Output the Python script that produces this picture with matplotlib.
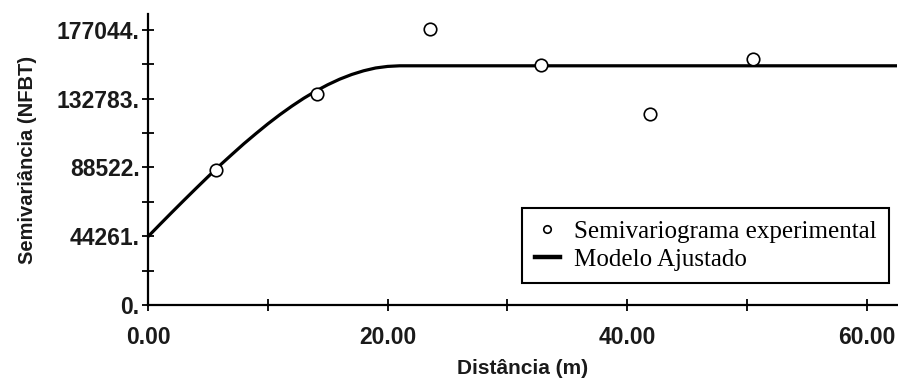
import matplotlib.pyplot as plt
from matplotlib.ticker import FixedLocator, FuncFormatter

# experimental semivariogram points
dist_exp = [5.7, 14.1, 23.5, 32.8, 41.9, 50.5]
gamma_exp = [86900, 135800, 177700, 154500, 123000, 158400]

# fitted model
dist_mod = [0, 1, 2, 3, 4, 5, 6, 7, 8, 9, 10, 11, 12, 13, 14, 15, 16, 17,
            18, 19, 20, 21, 62.5]
gamma_mod = [44000, 51900, 59700, 67400, 75000, 82500, 89900, 96900, 103800,
             110300, 116600, 122500, 128000, 133100, 137700, 141800, 145400,
             148400, 150800, 152600, 153600, 154000, 154000]

y_ticks = [0, 44261, 88522, 132783, 177044]
y_minor = [22130.5, 66391.5, 110652.5, 154913.5]
x_ticks = [0, 20, 40, 60]
x_minor = [10, 30, 50]

fig = plt.figure(figsize=(8.98, 3.91), dpi=100)
ax = fig.add_axes([0.1648, 0.22, 0.834, 0.744])

ax.plot(dist_mod, gamma_mod, color='black', lw=2.3, label='Modelo Ajustado', zorder=2)
ax.plot(dist_exp, gamma_exp, 'o', mfc='white', mec='black', ms=9, mew=1.2,
        label='Semivariograma experimental', zorder=3)

ax.set_xlim(0, 62.5)
ax.set_ylim(0, 187300)

for s in ['top', 'right']:
    ax.spines[s].set_visible(False)
for s in ['left', 'bottom']:
    ax.spines[s].set_linewidth(1.6)

ax.xaxis.set_major_locator(FixedLocator(x_ticks))
ax.xaxis.set_minor_locator(FixedLocator(x_minor))
ax.yaxis.set_major_locator(FixedLocator(y_ticks))
ax.yaxis.set_minor_locator(FixedLocator(y_minor))
ax.xaxis.set_major_formatter(FuncFormatter(lambda v, p: '%.2f' % v))
ax.yaxis.set_major_formatter(FuncFormatter(lambda v, p: '%d.' % v))

ax.tick_params(which='both', direction='inout', length=8, width=1.3, color='black')
ax.tick_params(axis='y', which='major', pad=2)
ax.tick_params(axis='x', which='major', pad=11)
for lab in ax.get_xticklabels() + ax.get_yticklabels():
    lab.set_fontfamily('Liberation Sans')
    lab.set_fontweight('bold')
    lab.set_fontsize(16.5)
    lab.set_color('#1a1a1a')

ax.set_xlabel('Distância (m)', fontfamily='Liberation Sans', fontweight='bold', fontsize=15,
              labelpad=7, color='#1a1a1a')
ax.set_ylabel('Semivariância (NFBT)', fontfamily='Liberation Sans', fontweight='bold', fontsize=14.5,
              labelpad=14, color='#1a1a1a')

h, l = ax.get_legend_handles_labels()
leg = ax.legend([h[1], h[0]], [l[1], l[0]], loc='upper left',
                bbox_to_anchor=(0.5, 0.333), prop={'family': 'Liberation Serif', 'size': 18},
                frameon=True, fancybox=False, framealpha=1, edgecolor='black',
                handlelength=1.0, handletextpad=0.55, borderpad=0.5, labelspacing=0.2,
                markerscale=0.6, borderaxespad=0)
leg.get_frame().set_linewidth(1.5)
leg.legend_handles[1].set_linewidth(3.2)

fig.savefig('out.png', dpi=100)
